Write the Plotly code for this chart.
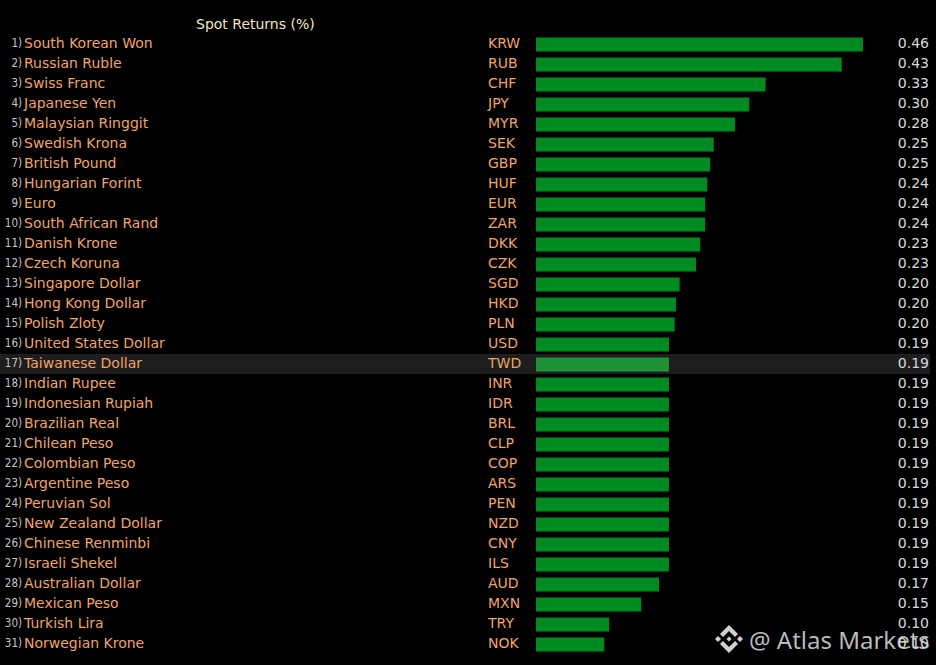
import plotly.graph_objects as go

# Data
rangs = list(range(1, 32))
devises = ['South Korean Won', 'Russian Ruble', 'Swiss Franc', 'Japanese Yen', 'Malaysian Ringgit',
           'Swedish Krona', 'British Pound', 'Hungarian Forint', 'Euro', 'South African Rand',
           'Danish Krone', 'Czech Koruna', 'Singapore Dollar', 'Hong Kong Dollar', 'Polish Zloty',
           'United States Dollar', 'Taiwanese Dollar', 'Indian Rupee', 'Indonesian Rupiah', 'Brazilian Real',
           'Chilean Peso', 'Colombian Peso', 'Argentine Peso', 'Peruvian Sol', 'New Zealand Dollar',
           'Chinese Renminbi', 'Israeli Shekel', 'Australian Dollar', 'Mexican Peso', 'Turkish Lira',
           'Norwegian Krone']
codes = ['KRW', 'RUB', 'CHF', 'JPY', 'MYR', 'SEK', 'GBP', 'HUF', 'EUR', 'ZAR', 'DKK', 'CZK', 'SGD', 'HKD', 'PLN',
         'USD', 'TWD', 'INR', 'IDR', 'BRL', 'CLP', 'COP', 'ARS', 'PEN', 'NZD', 'CNY', 'ILS', 'AUD', 'MXN', 'TRY', 'NOK']
# bar lengths are estimated from the picture, labels are the printed values
longueurs = [0.46, 0.43, 0.323, 0.30, 0.28, 0.25, 0.245, 0.241, 0.238, 0.238, 0.231, 0.225, 0.202, 0.197, 0.195,
             0.187, 0.187, 0.187, 0.187, 0.187, 0.187, 0.187, 0.187, 0.187, 0.187, 0.187, 0.187, 0.173, 0.148, 0.103, 0.096]
etiquettes = ['0.46', '0.43', '0.33', '0.30', '0.28', '0.25', '0.25', '0.24', '0.24', '0.24', '0.23', '0.23', '0.20',
              '0.20', '0.20', '0.19', '0.19', '0.19', '0.19', '0.19', '0.19', '0.19', '0.19', '0.19', '0.19', '0.19',
              '0.19', '0.17', '0.15', '0.10', '0.10']

W, H = 936, 665
X_ZERO = 536
PX_PAR_UNITE = 711
LIGNE_ACTIVE = 16  # Taiwanese Dollar


def x_px(px):
    return (px - X_ZERO) / PX_PAR_UNITE


lignes = list(range(len(devises)))
couleurs = ['#1f9238' if i == LIGNE_ACTIVE else '#008a22' for i in lignes]

fig = go.Figure()

fig.add_trace(go.Bar(x=longueurs, y=lignes, orientation='h', width=0.7, marker_color=couleurs,
                     marker_line_width=0, hoverinfo='skip'))


def colonne(px, textes, position, taille, couleur, famille='DejaVu Sans'):
    fig.add_trace(go.Scatter(x=[x_px(px)] * len(textes), y=lignes, text=textes, mode='text',
                             textposition=position, cliponaxis=False, hoverinfo='skip',
                             textfont=dict(family=famille, size=taille, color=couleur)))


colonne(22, [f'{r})' for r in rangs], 'middle left', 11.5, '#c4c4c4', 'DejaVu Sans Condensed')
colonne(24, devises, 'middle right', 14, '#f0a468')
colonne(488, codes, 'middle right', 14, '#f0a468')
colonne(929, etiquettes, 'middle left', 14, '#d9d9d9')


def papier_x(px):
    return px / W


def papier_y(py):
    return 1 - py / H


# Highlighted row, behind the bars
fig.add_shape(type='rect', xref='paper', yref='paper', layer='below', line_width=0, fillcolor='#1e1e1e',
              x0=0, x1=papier_x(930), y0=papier_y(374), y1=papier_y(354))

# Watermark logo: four small diamonds, a centre dot and two chevrons
CX, CY = 729, 639


def losange(cx, cy, r):
    pts = [(cx, cy - r), (cx + r, cy), (cx, cy + r), (cx - r, cy)]
    chemin = 'M ' + ' L '.join(f'{papier_x(a):.5f} {papier_y(b):.5f}' for a, b in pts) + ' Z'
    fig.add_shape(type='path', path=chemin, xref='paper', yref='paper', line_width=0, fillcolor='#d2d2d2')


def chevron(sens):
    pts = [(CX - 9, CY + sens * 5), (CX, CY + sens * 14), (CX + 9, CY + sens * 5),
           (CX + 6, CY + sens * 2), (CX, CY + sens * 8), (CX - 6, CY + sens * 2)]
    chemin = 'M ' + ' L '.join(f'{papier_x(a):.5f} {papier_y(b):.5f}' for a, b in pts) + ' Z'
    fig.add_shape(type='path', path=chemin, xref='paper', yref='paper', line_width=0, fillcolor='#d2d2d2')


chevron(-1)
chevron(1)
losange(CX - 11, CY, 3)
losange(CX + 11, CY, 3)
losange(CX, CY, 2.5)

fig.add_annotation(text='Spot Returns (%)', xref='paper', yref='paper', x=papier_x(194), y=papier_y(24),
                   xanchor='left', yanchor='middle', showarrow=False,
                   font=dict(family='DejaVu Sans', size=14, color='#f3e6bd'))
fig.add_annotation(text='@ Atlas Markets', xref='paper', yref='paper', x=papier_x(747), y=papier_y(639),
                   xanchor='left', yanchor='middle', showarrow=False,
                   font=dict(family='Noto Sans', size=24, color='rgba(214,214,214,0.88)'))

fig.update_layout(
    width=W, height=H,
    margin=dict(l=0, r=0, t=0, b=0),
    paper_bgcolor='#000000',
    plot_bgcolor='#000000',
    showlegend=False,
    xaxis=dict(range=[x_px(0), x_px(W)], visible=False),
    # row i is centred on 44.5 + 20 * i pixels
    yaxis=dict(range=[(H - 44.5) / 20, -44.5 / 20], visible=False),
)

# the page body has a default margin that would push the chart off the photo
fig.write_html('out.html', config={'displayModeBar': False},
               post_script="document.body.style.margin='0';document.body.style.background='#000';")
